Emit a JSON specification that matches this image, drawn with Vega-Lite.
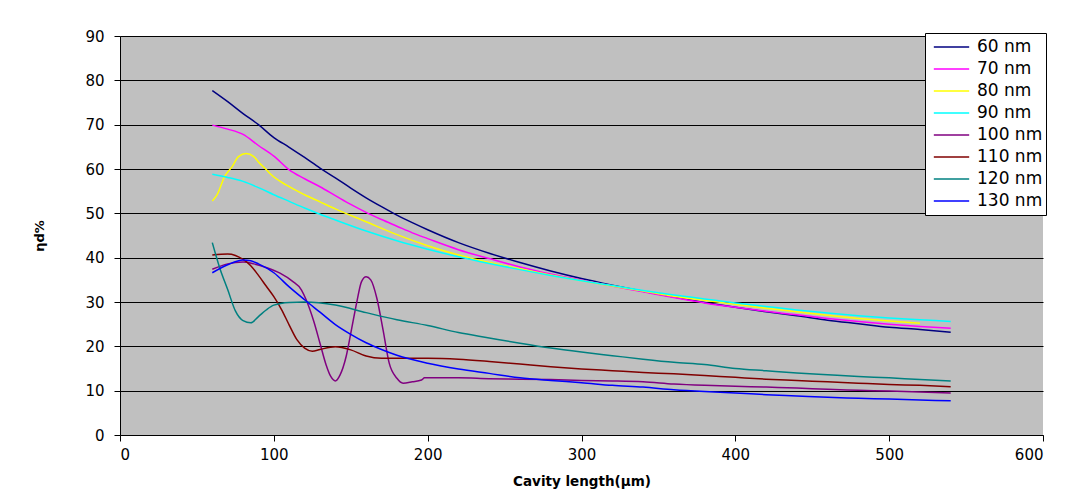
{
  "$schema": "https://vega.github.io/schema/vega-lite/v6.json",
  "width": 923,
  "height": 399,
  "autosize": {"type": "none"},
  "padding": {"left": 120, "top": 36, "right": 39, "bottom": 60},
  "background": "white",
  "config": {
    "font": "DejaVu Sans",
    "view": {"fill": "#C0C0C0", "stroke": null}
  },
  "datasets": {
    "d": [
      {"s":"60 nm","x":60,"y":77.7},{"s":"60 nm","x":70,"y":75.2},{"s":"60 nm","x":80,"y":72.5},{"s":"60 nm","x":90,"y":70.0},{"s":"60 nm","x":100,"y":67.1},{"s":"60 nm","x":110,"y":64.9},{"s":"60 nm","x":120,"y":62.6},{"s":"60 nm","x":130,"y":60.2},{"s":"60 nm","x":140,"y":58.0},{"s":"60 nm","x":150,"y":55.7},{"s":"60 nm","x":160,"y":53.5},{"s":"60 nm","x":170,"y":51.5},{"s":"60 nm","x":180,"y":49.6},{"s":"60 nm","x":190,"y":47.9},{"s":"60 nm","x":200,"y":46.3},{"s":"60 nm","x":220,"y":43.4},{"s":"60 nm","x":240,"y":41.0},{"s":"60 nm","x":260,"y":38.9},{"s":"60 nm","x":280,"y":37.0},{"s":"60 nm","x":300,"y":35.3},{"s":"60 nm","x":320,"y":33.8},{"s":"60 nm","x":340,"y":32.4},{"s":"60 nm","x":360,"y":31.1},{"s":"60 nm","x":380,"y":29.9},{"s":"60 nm","x":400,"y":28.8},{"s":"60 nm","x":420,"y":27.8},{"s":"60 nm","x":440,"y":26.9},{"s":"60 nm","x":460,"y":25.9},{"s":"60 nm","x":480,"y":25.1},{"s":"60 nm","x":500,"y":24.3},{"s":"60 nm","x":520,"y":23.8},{"s":"60 nm","x":540,"y":23.2},
      {"s":"70 nm","x":60,"y":69.9},{"s":"70 nm","x":70,"y":69.0},{"s":"70 nm","x":80,"y":67.8},{"s":"70 nm","x":90,"y":65.3},{"s":"70 nm","x":100,"y":62.9},{"s":"70 nm","x":110,"y":59.8},{"s":"70 nm","x":120,"y":57.8},{"s":"70 nm","x":130,"y":56.0},{"s":"70 nm","x":140,"y":54.0},{"s":"70 nm","x":150,"y":52.0},{"s":"70 nm","x":160,"y":50.2},{"s":"70 nm","x":170,"y":48.6},{"s":"70 nm","x":180,"y":47.1},{"s":"70 nm","x":190,"y":45.6},{"s":"70 nm","x":200,"y":44.3},{"s":"70 nm","x":220,"y":41.8},{"s":"70 nm","x":240,"y":39.8},{"s":"70 nm","x":260,"y":37.9},{"s":"70 nm","x":280,"y":36.3},{"s":"70 nm","x":300,"y":34.9},{"s":"70 nm","x":320,"y":33.6},{"s":"70 nm","x":340,"y":32.3},{"s":"70 nm","x":360,"y":31.0},{"s":"70 nm","x":380,"y":29.8},{"s":"70 nm","x":400,"y":28.8},{"s":"70 nm","x":420,"y":27.9},{"s":"70 nm","x":440,"y":27.1},{"s":"70 nm","x":460,"y":26.3},{"s":"70 nm","x":480,"y":25.6},{"s":"70 nm","x":500,"y":25.0},{"s":"70 nm","x":520,"y":24.5},{"s":"70 nm","x":540,"y":24.1},
      {"s":"80 nm","x":60,"y":52.8},{"s":"80 nm","x":63,"y":54.1},{"s":"80 nm","x":68,"y":58.3},{"s":"80 nm","x":73,"y":60.6},{"s":"80 nm","x":77,"y":62.8},{"s":"80 nm","x":82,"y":63.5},{"s":"80 nm","x":87,"y":62.8},{"s":"80 nm","x":90,"y":61.6},{"s":"80 nm","x":95,"y":59.9},{"s":"80 nm","x":98,"y":58.8},{"s":"80 nm","x":108,"y":56.4},{"s":"80 nm","x":120,"y":54.2},{"s":"80 nm","x":130,"y":52.6},{"s":"80 nm","x":140,"y":51.0},{"s":"80 nm","x":160,"y":48.1},{"s":"80 nm","x":180,"y":45.2},{"s":"80 nm","x":200,"y":42.7},{"s":"80 nm","x":220,"y":40.6},{"s":"80 nm","x":240,"y":38.9},{"s":"80 nm","x":260,"y":37.5},{"s":"80 nm","x":280,"y":36.1},{"s":"80 nm","x":300,"y":34.8},{"s":"80 nm","x":320,"y":33.6},{"s":"80 nm","x":340,"y":32.5},{"s":"80 nm","x":360,"y":31.3},{"s":"80 nm","x":380,"y":30.4},{"s":"80 nm","x":400,"y":29.5},{"s":"80 nm","x":420,"y":28.6},{"s":"80 nm","x":440,"y":27.8},{"s":"80 nm","x":460,"y":27.0},{"s":"80 nm","x":480,"y":26.3},{"s":"80 nm","x":500,"y":25.7},{"s":"80 nm","x":520,"y":25.2},
      {"s":"90 nm","x":60,"y":58.8},{"s":"90 nm","x":70,"y":58.1},{"s":"90 nm","x":80,"y":57.2},{"s":"90 nm","x":90,"y":55.8},{"s":"90 nm","x":100,"y":54.2},{"s":"90 nm","x":110,"y":52.7},{"s":"90 nm","x":120,"y":51.2},{"s":"90 nm","x":130,"y":49.8},{"s":"90 nm","x":140,"y":48.5},{"s":"90 nm","x":160,"y":46.0},{"s":"90 nm","x":180,"y":43.8},{"s":"90 nm","x":200,"y":41.9},{"s":"90 nm","x":220,"y":40.2},{"s":"90 nm","x":240,"y":38.7},{"s":"90 nm","x":260,"y":37.3},{"s":"90 nm","x":280,"y":36.0},{"s":"90 nm","x":300,"y":34.8},{"s":"90 nm","x":320,"y":33.7},{"s":"90 nm","x":340,"y":32.6},{"s":"90 nm","x":360,"y":31.6},{"s":"90 nm","x":380,"y":30.7},{"s":"90 nm","x":400,"y":29.8},{"s":"90 nm","x":420,"y":29.0},{"s":"90 nm","x":440,"y":28.2},{"s":"90 nm","x":460,"y":27.5},{"s":"90 nm","x":480,"y":26.9},{"s":"90 nm","x":500,"y":26.4},{"s":"90 nm","x":520,"y":26.0},{"s":"90 nm","x":540,"y":25.6},
      {"s":"100 nm","x":60,"y":37.4},{"s":"100 nm","x":70,"y":38.6},{"s":"100 nm","x":80,"y":39.0},{"s":"100 nm","x":87,"y":38.6},{"s":"100 nm","x":95,"y":37.8},{"s":"100 nm","x":104,"y":36.5},{"s":"100 nm","x":112,"y":34.7},{"s":"100 nm","x":118,"y":32.7},{"s":"100 nm","x":121,"y":30.5},{"s":"100 nm","x":126,"y":25.6},{"s":"100 nm","x":130,"y":20.7},{"s":"100 nm","x":134,"y":15.8},{"s":"100 nm","x":137,"y":13.2},{"s":"100 nm","x":140,"y":12.2},{"s":"100 nm","x":143,"y":13.5},{"s":"100 nm","x":147,"y":17.7},{"s":"100 nm","x":150,"y":22.9},{"s":"100 nm","x":154,"y":30.1},{"s":"100 nm","x":157,"y":34.6},{"s":"100 nm","x":160,"y":35.7},{"s":"100 nm","x":163,"y":35.0},{"s":"100 nm","x":167,"y":30.8},{"s":"100 nm","x":171,"y":23.7},{"s":"100 nm","x":175,"y":16.2},{"s":"100 nm","x":180,"y":12.8},{"s":"100 nm","x":184,"y":11.7},{"s":"100 nm","x":190,"y":12.0},{"s":"100 nm","x":196,"y":12.4},{"s":"100 nm","x":198,"y":12.9},{"s":"100 nm","x":220,"y":12.9},{"s":"100 nm","x":240,"y":12.7},{"s":"100 nm","x":260,"y":12.6},{"s":"100 nm","x":280,"y":12.5},{"s":"100 nm","x":300,"y":12.3},{"s":"100 nm","x":320,"y":12.2},{"s":"100 nm","x":340,"y":12.0},{"s":"100 nm","x":360,"y":11.5},{"s":"100 nm","x":380,"y":11.2},{"s":"100 nm","x":400,"y":11.0},{"s":"100 nm","x":420,"y":10.8},{"s":"100 nm","x":440,"y":10.6},{"s":"100 nm","x":460,"y":10.3},{"s":"100 nm","x":480,"y":10.1},{"s":"100 nm","x":500,"y":9.9},{"s":"100 nm","x":520,"y":9.7},{"s":"100 nm","x":540,"y":9.5},
      {"s":"110 nm","x":60,"y":40.6},{"s":"110 nm","x":70,"y":40.8},{"s":"110 nm","x":75,"y":40.5},{"s":"110 nm","x":80,"y":39.6},{"s":"110 nm","x":85,"y":38.2},{"s":"110 nm","x":90,"y":36.0},{"s":"110 nm","x":95,"y":33.6},{"s":"110 nm","x":100,"y":31.2},{"s":"110 nm","x":105,"y":28.3},{"s":"110 nm","x":110,"y":24.8},{"s":"110 nm","x":115,"y":21.5},{"s":"110 nm","x":120,"y":19.6},{"s":"110 nm","x":125,"y":18.9},{"s":"110 nm","x":130,"y":19.3},{"s":"110 nm","x":140,"y":19.9},{"s":"110 nm","x":150,"y":19.2},{"s":"110 nm","x":160,"y":17.8},{"s":"110 nm","x":170,"y":17.3},{"s":"110 nm","x":200,"y":17.3},{"s":"110 nm","x":220,"y":17.1},{"s":"110 nm","x":240,"y":16.6},{"s":"110 nm","x":260,"y":16.0},{"s":"110 nm","x":280,"y":15.4},{"s":"110 nm","x":300,"y":14.9},{"s":"110 nm","x":320,"y":14.5},{"s":"110 nm","x":340,"y":14.1},{"s":"110 nm","x":360,"y":13.8},{"s":"110 nm","x":380,"y":13.4},{"s":"110 nm","x":400,"y":13.0},{"s":"110 nm","x":420,"y":12.6},{"s":"110 nm","x":440,"y":12.3},{"s":"110 nm","x":460,"y":12.0},{"s":"110 nm","x":480,"y":11.7},{"s":"110 nm","x":500,"y":11.4},{"s":"110 nm","x":520,"y":11.2},{"s":"110 nm","x":540,"y":10.9},
      {"s":"120 nm","x":60,"y":43.4},{"s":"120 nm","x":65,"y":37.5},{"s":"120 nm","x":70,"y":32.8},{"s":"120 nm","x":75,"y":28.0},{"s":"120 nm","x":80,"y":25.8},{"s":"120 nm","x":85,"y":25.3},{"s":"120 nm","x":90,"y":26.7},{"s":"120 nm","x":95,"y":28.2},{"s":"120 nm","x":100,"y":29.3},{"s":"120 nm","x":110,"y":29.9},{"s":"120 nm","x":120,"y":30.0},{"s":"120 nm","x":140,"y":29.3},{"s":"120 nm","x":160,"y":27.6},{"s":"120 nm","x":180,"y":26.0},{"s":"120 nm","x":200,"y":24.7},{"s":"120 nm","x":220,"y":23.1},{"s":"120 nm","x":240,"y":21.9},{"s":"120 nm","x":260,"y":20.7},{"s":"120 nm","x":280,"y":19.6},{"s":"120 nm","x":300,"y":18.7},{"s":"120 nm","x":320,"y":17.9},{"s":"120 nm","x":340,"y":17.1},{"s":"120 nm","x":360,"y":16.4},{"s":"120 nm","x":380,"y":15.9},{"s":"120 nm","x":400,"y":15.0},{"s":"120 nm","x":420,"y":14.5},{"s":"120 nm","x":440,"y":14.0},{"s":"120 nm","x":460,"y":13.6},{"s":"120 nm","x":480,"y":13.2},{"s":"120 nm","x":500,"y":12.9},{"s":"120 nm","x":520,"y":12.5},{"s":"120 nm","x":540,"y":12.2},
      {"s":"130 nm","x":60,"y":36.6},{"s":"130 nm","x":70,"y":38.4},{"s":"130 nm","x":80,"y":39.5},{"s":"130 nm","x":85,"y":39.3},{"s":"130 nm","x":90,"y":38.6},{"s":"130 nm","x":100,"y":36.6},{"s":"130 nm","x":110,"y":33.4},{"s":"130 nm","x":120,"y":30.5},{"s":"130 nm","x":130,"y":27.7},{"s":"130 nm","x":140,"y":24.9},{"s":"130 nm","x":150,"y":22.7},{"s":"130 nm","x":160,"y":20.8},{"s":"130 nm","x":170,"y":19.3},{"s":"130 nm","x":180,"y":18.0},{"s":"130 nm","x":200,"y":16.2},{"s":"130 nm","x":220,"y":14.9},{"s":"130 nm","x":240,"y":13.9},{"s":"130 nm","x":260,"y":12.9},{"s":"130 nm","x":280,"y":12.3},{"s":"130 nm","x":300,"y":11.8},{"s":"130 nm","x":320,"y":11.2},{"s":"130 nm","x":340,"y":10.8},{"s":"130 nm","x":360,"y":10.2},{"s":"130 nm","x":380,"y":9.8},{"s":"130 nm","x":400,"y":9.5},{"s":"130 nm","x":420,"y":9.1},{"s":"130 nm","x":440,"y":8.8},{"s":"130 nm","x":460,"y":8.5},{"s":"130 nm","x":480,"y":8.3},{"s":"130 nm","x":500,"y":8.1},{"s":"130 nm","x":520,"y":7.9},{"s":"130 nm","x":540,"y":7.7}
    ]
  },
  "data": {"name": "d"},
  "mark": {"type": "line", "strokeWidth": 1.5, "interpolate": "monotone"},
  "encoding": {
    "x": {
      "field": "x", "type": "quantitative",
      "scale": {"domain": [0, 600], "nice": false},
      "axis": {
        "title": "Cavity length(μm)", "titleFont": "DejaVu Sans", "titleFontSize": 13.5, "titleFontWeight": "bold", "titleColor": "black", "titlePadding": 12,
        "values": [0, 100, 200, 300, 400, 500, 600],
        "grid": false, "domainColor": "black", "domainWidth": 1, "tickColor": "black", "tickSize": 6,
        "labelFont": "DejaVu Sans", "labelFontSize": 15, "labelColor": "black", "labelPadding": 6
      }
    },
    "y": {
      "field": "y", "type": "quantitative",
      "scale": {"domain": [0, 90], "nice": false},
      "axis": {
        "title": "ηd%", "titleFont": "DejaVu Sans", "titleFontSize": 13, "titleFontWeight": "bold", "titleColor": "black", "titlePadding": 38,
        "values": [0, 10, 20, 30, 40, 50, 60, 70, 80, 90],
        "grid": true, "gridColor": "black", "gridOpacity": 1, "gridWidth": 1,
        "domainColor": "black", "domainWidth": 1, "tickColor": "black", "tickSize": 6,
        "labelFont": "DejaVu Sans", "labelFontSize": 15, "labelColor": "black", "labelPadding": 10
      }
    },
    "color": {
      "field": "s", "type": "nominal",
      "scale": {
        "domain": ["60 nm", "70 nm", "80 nm", "90 nm", "100 nm", "110 nm", "120 nm", "130 nm"],
        "range": ["#000080", "#FF00FF", "#FFFF00", "#00FFFF", "#800080", "#800000", "#008080", "#0000FF"]
      },
      "legend": {
        "title": null, "orient": "none", "legendX": 805, "legendY": -3,
        "fillColor": "white", "strokeColor": "black", "padding": 3,
        "symbolType": "stroke", "symbolSize": 1250, "symbolStrokeWidth": 1.5, "symbolOffset": 5,
        "clipHeight": 22, "rowPadding": 0,
        "labelFontSize": 17, "labelColor": "black", "labelOffset": 7, "labelFont": "DejaVu Sans"
      }
    }
  }
}
